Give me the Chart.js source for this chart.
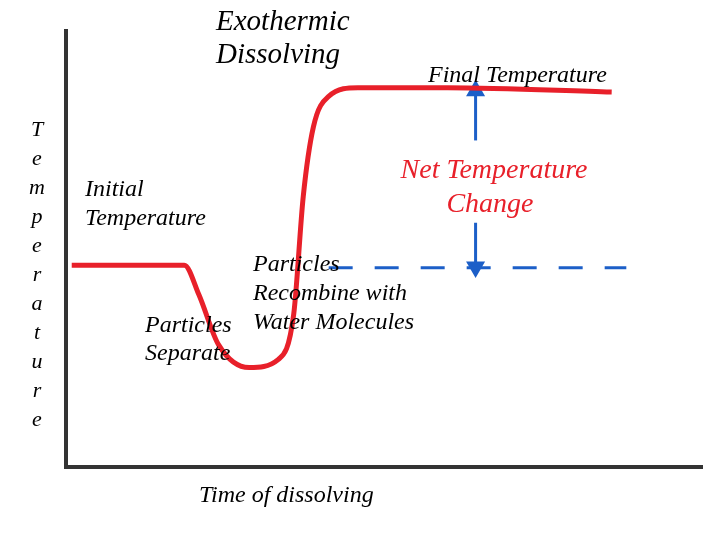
<!DOCTYPE html>
<html>
<head>
<meta charset="utf-8">
<script src="https://cdn.jsdelivr.net/npm/chart.js@4.4.0/dist/chart.umd.min.js"></script>
<style>
  html, body { margin: 0; background: #fff; }
  #wrap { width: 720px; height: 540px; }
</style>
</head>
<body>
<div id="wrap"><canvas id="c"></canvas></div>
<script>
// temperature curve (time 0-100, temp 0-100)
const curveTime = [0.9, 18.6, 20.9, 24.0, 28.8, 33.4, 35.8, 37.3, 38.9, 41.3, 45.9, 60, 85.8];
const curveTemp = [46.3, 46.3, 39.5, 28, 22.8, 24.7, 35, 62, 78, 85, 87, 87, 86];
const dashTime = [41.3, 88.1];
const dashTemp = [45.7, 45.7];
const arrowTime = 64.4;
const arrowUp = [74.9, 86.3];
const arrowDown = [56, 45.9];

const pts = (xs, ys) => xs.map((x, i) => ({ x: x, y: ys[i] }));

const labels = {
    id: 'labels',
    afterDraw(chart) {
        const ctx = chart.ctx;
        ctx.save();
        ctx.fillStyle = '#000';
        ctx.font = 'italic 29px "Liberation Serif"';
        ctx.textBaseline = 'middle';
        ctx.fillText('Exothermic', 216, 22);
        ctx.fillText('Dissolving', 216, 55);
        ctx.font = 'italic 24px "Liberation Serif"';
        ctx.fillText('Final Temperature', 428, 76);
        ctx.fillText('Initial', 85, 190);
        ctx.fillText('Temperature', 85, 219);
        ctx.fillText('Particles', 253, 265);
        ctx.fillText('Recombine with', 253, 294);
        ctx.fillText('Water Molecules', 253, 323);
        ctx.fillText('Particles', 145, 326);
        ctx.fillText('Separate', 145, 354);
        ctx.fillText('Time of dissolving', 199, 496);
        ctx.font = 'italic 22px "Liberation Serif"';
        ctx.textAlign = 'center';
        'Temperature'.split('').forEach((ch, i) => ctx.fillText(ch, 37, 130 + i * 29));
        ctx.fillStyle = '#e8202a';
        ctx.font = 'italic 28px "Liberation Serif"';
        ctx.fillText('Net Temperature', 494, 171);
        ctx.fillText('Change', 490, 205);
        ctx.restore();
    }
};

new Chart(document.getElementById('c'), {
    type: 'line',
    data: {
        datasets: [
            { data: pts(curveTime, curveTemp), borderColor: '#e8202a', borderWidth: 5,
              cubicInterpolationMode: 'monotone', pointRadius: 0 },
            { data: pts(dashTime, dashTemp), borderColor: '#1c5fc8', borderWidth: 3,
              borderDash: [24, 22], pointRadius: 0 },
            { data: pts([arrowTime, arrowTime], arrowUp), borderColor: '#1c5fc8', borderWidth: 3,
              pointStyle: 'triangle', pointRadius: [0, 8], pointRotation: 0,
              backgroundColor: '#1c5fc8', pointBorderColor: '#1c5fc8' },
            { data: pts([arrowTime, arrowTime], arrowDown), borderColor: '#1c5fc8', borderWidth: 3,
              pointStyle: 'triangle', pointRadius: [0, 8], pointRotation: 180,
              backgroundColor: '#1c5fc8', pointBorderColor: '#1c5fc8' }
        ]
    },
    options: {
        responsive: true,
        maintainAspectRatio: false,
        animation: false,
        layout: { padding: { left: 58, right: 18, top: 31, bottom: 65 } },
        scales: {
            x: { type: 'linear', min: 0, max: 100,
                 ticks: { display: false }, grid: { display: false },
                 border: { color: '#333', width: 4 } },
            y: { min: 0, max: 100,
                 ticks: { display: false }, grid: { display: false },
                 border: { color: '#333', width: 4 } }
        },
        plugins: { legend: { display: false }, tooltip: { enabled: false } }
    },
    plugins: [labels]
});
</script>
</body>
</html>
